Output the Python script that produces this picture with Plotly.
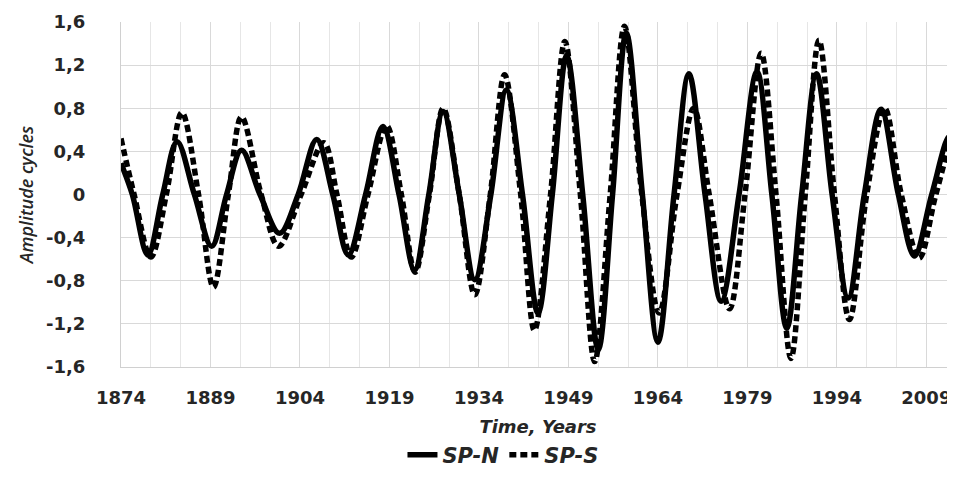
import plotly.graph_objects as go

# SP-N (solid) : years and amplitudes (extrema and zero crossings)
years_n = [1874.0, 1875.9, 1878.5, 1881.0, 1883.4, 1886.3, 1889.2, 1891.7, 1894.2, 1897.3,
           1900.6, 1903.7, 1906.8, 1909.5, 1912.1, 1915.0, 1917.9, 1920.6, 1923.2, 1925.6,
           1928.0, 1930.7, 1933.3, 1936.0, 1938.6, 1941.3, 1943.9, 1946.3, 1948.7, 1951.4,
           1954.0, 1956.4, 1958.7, 1961.4, 1964.0, 1966.7, 1969.2, 1971.9, 1974.6, 1977.6,
           1980.6, 1983.1, 1985.6, 1988.1, 1990.6, 1993.2, 1995.9, 1998.6, 2001.4, 2004.3,
           2007.0, 2009.9, 2012.9, 2014.0]
sp_n = [0.29, 0.0, -0.56, 0.0, 0.49, 0.0, -0.48, 0.0, 0.41, 0.0,
        -0.36, 0.0, 0.51, 0.0, -0.56, 0.0, 0.63, 0.0, -0.70, 0.0,
        0.77, 0.0, -0.79, 0.0, 0.97, 0.0, -1.10, 0.0, 1.29, 0.0,
        -1.44, 0.0, 1.50, 0.0, -1.37, 0.0, 1.12, 0.0, -0.99, 0.0,
        1.14, 0.0, -1.24, 0.0, 1.12, 0.0, -0.96, 0.0, 0.79, 0.0,
        -0.57, 0.0, 0.54, 0.40]

# SP-S (dashed)
years_s = [1874.0, 1876.2, 1879.0, 1881.6, 1884.2, 1887.0, 1889.5, 1892.0, 1894.2, 1897.5,
           1900.4, 1904.2, 1908.0, 1910.2, 1912.6, 1915.4, 1918.5, 1921.0, 1923.3, 1925.7,
           1928.0, 1930.7, 1933.3, 1935.9, 1938.3, 1941.0, 1943.3, 1946.0, 1948.4, 1951.0,
           1953.4, 1956.0, 1958.4, 1961.3, 1964.2, 1967.2, 1970.0, 1972.6, 1976.0, 1978.6,
           1981.3, 1983.8, 1986.3, 1988.7, 1991.0, 1993.6, 1996.1, 1999.0, 2002.0, 2004.8,
           2007.8, 2010.6, 2013.5, 2014.0]
sp_s = [0.52, 0.0, -0.58, 0.0, 0.76, 0.0, -0.86, 0.0, 0.72, 0.0,
        -0.48, 0.0, 0.48, 0.0, -0.58, 0.0, 0.64, 0.0, -0.72, 0.0,
        0.80, 0.0, -0.93, 0.0, 1.11, 0.0, -1.26, 0.0, 1.42, 0.0,
        -1.55, 0.0, 1.56, 0.0, -1.10, 0.0, 0.80, 0.0, -1.06, 0.0,
        1.31, 0.0, -1.52, 0.0, 1.43, 0.0, -1.16, 0.0, 0.80, 0.0,
        -0.59, 0.0, 0.52, 0.48]

y_ticks = [-1.6, -1.2, -0.8, -0.4, 0.0, 0.4, 0.8, 1.2, 1.6]
y_tick_labels = ["-1,6", "-1,2", "-0,8", "-0,4", "0", "0,4", "0,8", "1,2", "1,6"]
x_ticks = [1874, 1889, 1904, 1919, 1934, 1949, 1964, 1979, 1994, 2009]

TEXT = "#262626"
TICK_FONT = dict(family="DejaVu Sans", size=18, color=TEXT, weight="bold")

fig = go.Figure()
fig.add_trace(go.Scatter(
    x=years_n, y=sp_n, name="SP-N", mode="lines",
    line=dict(color="#000000", width=5.5, shape="spline", smoothing=1.0),
))
fig.add_trace(go.Scatter(
    x=years_s, y=sp_s, name="SP-S", mode="lines",
    line=dict(color="#000000", width=5.5, shape="spline", smoothing=1.0, dash="7px,4px"),
))

# page body has an 8px default margin, so the figure is sized to fit the window
fig.update_layout(
    width=947, height=477,
    margin=dict(l=113, r=0, t=14, b=118, autoexpand=False),
    paper_bgcolor="white", plot_bgcolor="white",
    showlegend=True,
    legend=dict(orientation="h", x=0.458, xanchor="center", y=-0.255, yanchor="middle",
                font=dict(family="DejaVu Sans", size=21, color=TEXT, weight="bold", style="italic")),
)
fig.update_xaxes(
    range=[1874, 2013.8], tickmode="array", tickvals=x_ticks,
    ticktext=[str(v) for v in x_ticks], automargin=False,
    tickfont=TICK_FONT, ticks="", ticklabelstandoff=14,
    showgrid=True, gridcolor="#d9d9d9", gridwidth=1,
    minor=dict(tick0=1874, dtick=5, showgrid=True, gridcolor="#e6e6e6", gridwidth=1),
    showline=True, linecolor="#d0d0d0", linewidth=1,
    zeroline=False,
    title=dict(text="Time, Years", font=dict(family="DejaVu Sans", size=18, color=TEXT, weight="bold", style="italic"), standoff=13),
)
fig.update_yaxes(
    range=[-1.6, 1.6], tickmode="array", tickvals=y_ticks, ticktext=y_tick_labels,
    tickfont=TICK_FONT, ticks="", ticklabelstandoff=31, automargin=False,
    showgrid=True, gridcolor="#d9d9d9", gridwidth=1,
    showline=True, linecolor="#d0d0d0", linewidth=1,
    zeroline=False,
    title=dict(text="Amplitude cycles", font=dict(family="Open Sans", size=18, color=TEXT, style="italic", weight=600), standoff=7),
)

fig.write_html("out.html")
